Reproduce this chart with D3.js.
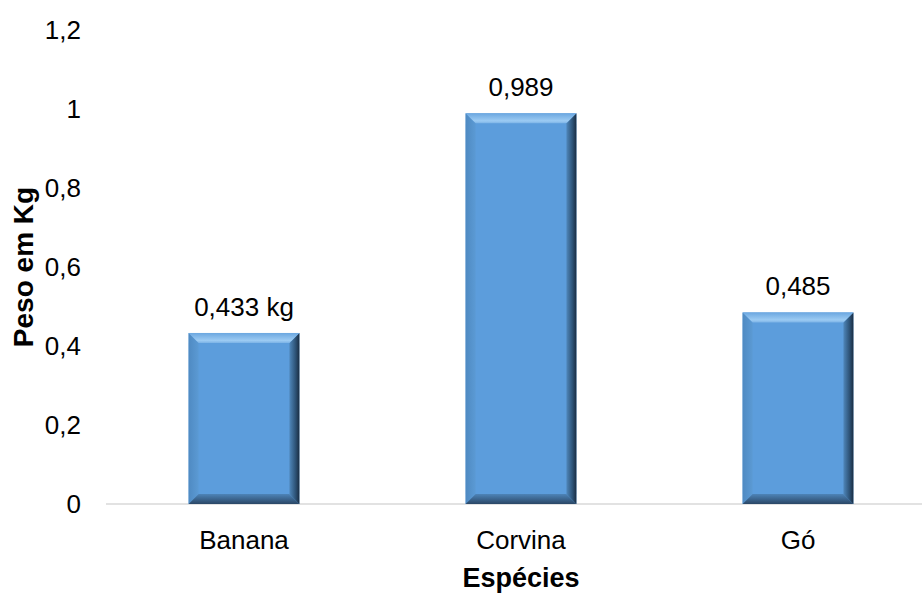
<!DOCTYPE html>
<html><head><meta charset="utf-8">
<script src="https://cdn.jsdelivr.net/npm/d3@7"></script>
<style>body{margin:0;background:#fff}svg{display:block}text{font-family:"Liberation Sans",Arial,sans-serif;fill:#000}</style>
</head><body><svg id="c" width="922" height="594"></svg>
<script>
const categories = ["Banana", "Corvina", "Gó"];
const values = [0.433, 0.989, 0.485];
const valueLabels = ["0,433 kg", "0,989", "0,485"];
const yTicks = [0, 0.2, 0.4, 0.6, 0.8, 1, 1.2];
const yTickLabels = ["0", "0,2", "0,4", "0,6", "0,8", "1", "1,2"];
const xTitle = "Espécies";
const yTitle = "Peso em Kg";

const svg = d3.select("#c");
const W = 922, H = 594;
const y = d3.scaleLinear().domain([0, 1.2]).range([504, 30]);
const x = d3.scaleBand().domain(categories).range([105.5, 936.5]).paddingInner(0.6).paddingOuter(0.3);

const defs = svg.append("defs");
function grad(id, x1, y1, x2, y2, stops) {
  const g = defs.append("linearGradient").attr("id", id)
    .attr("x1", x1).attr("y1", y1).attr("x2", x2).attr("y2", y2);
  stops.forEach(s => g.append("stop").attr("offset", s[0]).attr("stop-color", s[1]));
}
grad("gTop", 0, 0, 0, 1, [[0, "#6ba7e0"], [0.75, "#9ccbf3"], [1, "#7cb3e6"]]);
grad("gRight", 0, 0, 1, 0, [[0, "#4f87bb"], [0.6, "#2e5478"], [1, "#1a2d42"]]);
grad("gBottom", 0, 0, 0, 1, [[0, "#4d84b8"], [1, "#2a4766"]]);
grad("gLeft", 0, 0, 1, 0, [[0, "#4f8ac2"], [1, "#5b9ad4"]]);

// axis line
svg.append("line").attr("x1", 106).attr("x2", W).attr("y1", y(0)).attr("y2", y(0))
  .attr("stroke", "#d9d9d9").attr("stroke-width", 1.3);

// y tick labels
svg.append("g").selectAll("text").data(yTicks).join("text")
  .attr("x", 81).attr("y", d => y(d)).attr("dy", "0.36em")
  .attr("text-anchor", "end").style("font-size", "26px")
  .text((d, i) => yTickLabels[i]);

const B = 10;
const bars = svg.append("g").selectAll("g").data(values).join("g");
bars.each(function(v, i) {
  const g = d3.select(this);
  const x0 = x(categories[i]), x1 = x0 + x.bandwidth();
  const y0 = y(v), y1 = y(0);
  g.append("rect").attr("x", x0).attr("y", y0).attr("width", x1 - x0).attr("height", y1 - y0).attr("fill", "#5c9ddc");
  const poly = (pts, fill) => g.append("polygon").attr("points", pts.map(p => p.join(",")).join(" ")).attr("fill", fill);
  poly([[x0, y0], [x0 + B, y0 + B], [x0 + B, y1 - B], [x0, y1]], "url(#gLeft)");
  poly([[x0, y1], [x0 + B, y1 - B], [x1 - B, y1 - B], [x1, y1]], "url(#gBottom)");
  poly([[x1, y0], [x1 - B, y0 + B], [x1 - B, y1 - B], [x1, y1]], "url(#gRight)");
  poly([[x0, y0], [x1, y0], [x1 - B, y0 + B], [x0 + B, y0 + B]], "url(#gTop)");
  g.append("text").attr("x", (x0 + x1) / 2).attr("y", y0 - 17)
    .attr("text-anchor", "middle").style("font-size", "26px").text(valueLabels[i]);
});

// x category labels
svg.append("g").selectAll("text").data(categories).join("text")
  .attr("x", d => x(d) + x.bandwidth() / 2).attr("y", 549)
  .attr("text-anchor", "middle").style("font-size", "26px").text(d => d);

svg.append("text").attr("x", 521).attr("y", 587).attr("text-anchor", "middle")
  .style("font-size", "27px").style("font-weight", "bold").text(xTitle);
svg.append("text").attr("transform", "translate(33,267) rotate(-90)").attr("text-anchor", "middle")
  .style("font-size", "28px").style("font-weight", "bold").text(yTitle);
</script></body></html>
